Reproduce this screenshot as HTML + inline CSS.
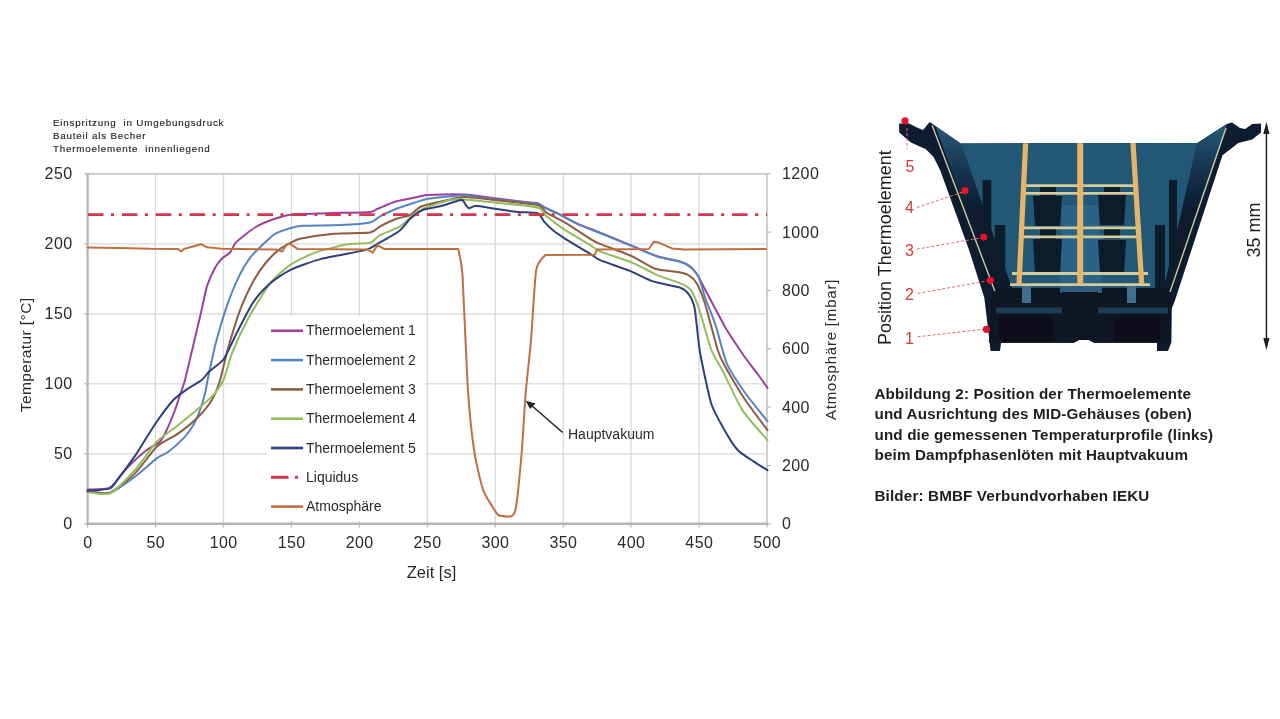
<!DOCTYPE html>
<html><head><meta charset="utf-8"><style>
html,body{margin:0;padding:0;background:#fff;width:1280px;height:719px;overflow:hidden}
svg{position:absolute;left:0;top:0;filter:blur(0.4px)}
text{font-family:"Liberation Sans",sans-serif}
</style></head><body>
<svg width="1280" height="719" viewBox="0 0 1280 719">
<g fill="#262626" stroke="#262626" stroke-width="0.15" font-size="9.8" letter-spacing="0.8">
<text x="53" y="125.6">Einspritzung&#160; in Umgebungsdruck</text>
<text x="53" y="139">Bauteil als Becher</text>
<text x="53" y="152.3">Thermoelemente&#160; innenliegend</text>
</g>
<g stroke="#d9d9d9" stroke-width="1.3" fill="none"><line x1="87.6" y1="453.8" x2="767" y2="453.8"/><line x1="87.6" y1="383.8" x2="767" y2="383.8"/><line x1="87.6" y1="313.8" x2="767" y2="313.8"/><line x1="87.6" y1="243.8" x2="767" y2="243.8"/><line x1="155.5" y1="173.8" x2="155.5" y2="523.8"/><line x1="223.5" y1="173.8" x2="223.5" y2="523.8"/><line x1="291.4" y1="173.8" x2="291.4" y2="523.8"/><line x1="359.4" y1="173.8" x2="359.4" y2="523.8"/><line x1="427.3" y1="173.8" x2="427.3" y2="523.8"/><line x1="495.2" y1="173.8" x2="495.2" y2="523.8"/><line x1="563.2" y1="173.8" x2="563.2" y2="523.8"/><line x1="631.1" y1="173.8" x2="631.1" y2="523.8"/><line x1="699.1" y1="173.8" x2="699.1" y2="523.8"/></g>
<line x1="86.6" y1="173.8" x2="767" y2="173.8" stroke="#c8c8c8" stroke-width="1.8"/>
<line x1="767" y1="173" x2="767" y2="524" stroke="#c4c4c4" stroke-width="1.6"/>
<g stroke="#b8b8b8" stroke-width="1.2"><line x1="84" y1="523.8" x2="88" y2="523.8"/><line x1="84" y1="453.8" x2="88" y2="453.8"/><line x1="84" y1="383.8" x2="88" y2="383.8"/><line x1="84" y1="313.8" x2="88" y2="313.8"/><line x1="84" y1="243.8" x2="88" y2="243.8"/><line x1="84" y1="173.8" x2="88" y2="173.8"/><line x1="87.6" y1="523" x2="87.6" y2="527.5"/><line x1="155.5" y1="523" x2="155.5" y2="527.5"/><line x1="223.5" y1="523" x2="223.5" y2="527.5"/><line x1="291.4" y1="523" x2="291.4" y2="527.5"/><line x1="359.4" y1="523" x2="359.4" y2="527.5"/><line x1="427.3" y1="523" x2="427.3" y2="527.5"/><line x1="495.2" y1="523" x2="495.2" y2="527.5"/><line x1="563.2" y1="523" x2="563.2" y2="527.5"/><line x1="631.1" y1="523" x2="631.1" y2="527.5"/><line x1="699.1" y1="523" x2="699.1" y2="527.5"/><line x1="767.0" y1="523" x2="767.0" y2="527.5"/><line x1="767" y1="523.8" x2="771" y2="523.8"/><line x1="767" y1="465.5" x2="771" y2="465.5"/><line x1="767" y1="407.1" x2="771" y2="407.1"/><line x1="767" y1="348.8" x2="771" y2="348.8"/><line x1="767" y1="290.5" x2="771" y2="290.5"/><line x1="767" y1="232.1" x2="771" y2="232.1"/><line x1="767" y1="173.8" x2="771" y2="173.8"/></g>
<rect x="267" y="316" width="158" height="205" fill="#fff"/>
<line x1="87.6" y1="173" x2="87.6" y2="525" stroke="#b4b4b4" stroke-width="2.2"/>
<line x1="86.5" y1="523.8" x2="768" y2="523.8" stroke="#b4b4b4" stroke-width="2.4"/>
<g fill="none" stroke-width="2" stroke-linejoin="round" stroke-linecap="round">
<path d="M87.6,489.5 C90.0,489.3 105.8,489.9 110.0,487.6 C114.2,485.3 122.8,472.4 126.7,468.4 C130.6,464.4 143.1,452.8 146.7,450.0 C150.3,447.2 157.9,443.8 160.0,441.7 C162.1,439.6 165.1,433.4 166.7,430.0 C168.3,426.6 173.6,413.7 175.0,410.0 C176.4,406.3 178.9,398.2 180.0,395.0 C181.1,391.8 183.7,385.0 185.0,380.0 C186.3,375.0 190.8,355.6 192.5,348.5 C194.2,341.4 199.3,319.7 200.9,313.0 C202.5,306.3 205.5,290.8 207.1,285.9 C208.7,281.0 213.9,270.0 215.5,267.1 C217.1,264.2 220.2,260.4 221.7,258.8 C223.2,257.2 228.4,254.3 230.0,252.5 C231.6,250.7 233.6,244.8 236.3,242.1 C239.0,239.4 250.9,230.0 255.0,227.5 C259.1,225.0 271.0,220.1 275.0,218.8 C279.0,217.4 286.9,215.1 292.5,214.5 C298.1,213.9 319.3,213.5 327.6,213.2 C335.9,212.9 364.8,212.4 370.1,211.9 C375.4,211.4 374.8,209.9 377.6,208.8 C380.4,207.7 392.4,202.5 396.4,201.3 C400.4,200.1 411.9,198.2 415.2,197.5 C418.5,196.8 422.4,195.3 427.7,195.0 C433.0,194.7 457.8,194.0 465.0,194.4 C472.2,194.8 488.4,197.5 495.1,198.3 C501.8,199.1 523.1,201.8 527.6,202.3 C532.1,202.8 535.7,202.6 537.7,203.2 C539.7,203.8 544.1,207.1 546.4,208.2 C548.7,209.3 555.6,212.1 558.9,213.8 C562.2,215.5 573.3,221.8 577.7,223.8 C582.1,225.8 594.2,230.2 600.0,232.6 C605.8,235.0 626.1,243.4 632.2,245.9 C638.3,248.4 652.1,254.6 657.2,256.3 C662.3,258.0 676.5,260.4 680.1,261.5 C683.7,262.6 688.7,265.3 690.6,266.8 C692.5,268.3 696.4,273.6 698.0,276.0 C699.6,278.4 702.7,284.9 705.2,289.7 C707.7,294.5 719.5,316.7 721.8,321.0 C724.1,325.3 724.4,326.2 726.8,330.0 C729.2,333.8 741.3,352.0 744.6,356.7 C747.9,361.4 755.6,371.2 758.0,374.5 C760.4,377.8 766.5,386.5 767.5,387.9" stroke="#9c3fa0"/>
<path d="M87.6,491.0 C90.0,491.2 104.9,494.5 110.0,493.0 C115.1,491.5 130.0,480.4 135.0,476.7 C140.0,473.0 153.1,461.1 156.7,458.4 C160.3,455.7 165.6,453.8 168.4,451.7 C171.2,449.6 180.7,441.2 183.4,438.4 C186.1,435.6 191.6,428.0 193.4,425.0 C195.2,422.0 198.8,413.4 200.0,410.0 C201.2,406.6 204.3,396.5 205.1,393.3 C205.9,390.1 206.5,385.2 207.6,380.0 C208.7,374.8 213.5,351.9 215.5,344.3 C217.5,336.7 223.5,316.0 225.9,308.9 C228.3,301.8 235.7,283.2 238.4,277.6 C241.1,272.0 247.9,260.7 251.0,256.7 C254.1,252.7 265.1,242.4 267.7,240.0 C270.3,237.6 272.6,235.0 275.0,233.8 C277.4,232.5 287.1,229.1 290.0,228.2 C292.9,227.3 297.2,226.0 302.5,225.7 C307.8,225.4 332.9,225.4 340.1,225.1 C347.3,224.8 365.8,223.5 370.1,222.6 C374.4,221.7 377.3,217.8 380.1,216.3 C382.9,214.8 392.7,210.3 396.4,208.8 C400.1,207.3 411.9,203.6 415.2,202.5 C418.5,201.4 424.0,199.5 427.7,198.8 C431.4,198.1 446.0,196.7 450.0,196.3 C454.0,195.9 460.2,194.9 465.0,195.2 C469.8,195.5 488.4,198.5 495.1,199.3 C501.8,200.1 523.1,202.1 527.6,202.6 C532.1,203.1 535.7,203.0 537.7,203.6 C539.7,204.2 544.1,207.5 546.4,208.6 C548.7,209.7 555.6,212.5 558.9,214.2 C562.2,215.9 573.3,222.2 577.7,224.2 C582.1,226.2 594.2,230.7 600.0,233.0 C605.8,235.3 626.1,243.7 632.2,246.2 C638.3,248.7 652.1,254.8 657.2,256.5 C662.3,258.2 676.5,260.7 680.1,261.8 C683.7,262.9 688.6,265.6 690.6,267.2 C692.6,268.8 697.3,273.9 698.9,277.2 C700.5,280.5 703.4,292.9 705.2,298.0 C707.0,303.1 713.3,318.2 715.6,325.2 C717.9,332.2 723.7,356.2 726.8,363.4 C729.9,370.6 740.3,386.1 744.6,392.3 C748.9,398.5 765.1,418.2 767.5,421.3" stroke="#5585c0"/>
<path d="M87.6,491.5 C90.0,491.6 104.9,494.5 110.0,492.6 C115.1,490.7 130.0,478.3 135.0,473.4 C140.0,468.5 152.1,451.0 156.7,446.7 C161.3,442.4 174.0,436.6 178.4,433.4 C182.8,430.2 194.8,420.3 198.4,416.7 C202.0,413.1 209.5,403.9 211.8,400.0 C214.1,396.1 218.4,385.5 220.1,380.0 C221.8,374.5 225.8,356.1 228.0,348.5 C230.2,340.9 237.8,316.0 240.5,308.9 C243.2,301.8 250.3,286.6 253.0,281.7 C255.7,276.8 262.9,266.3 265.6,263.0 C268.3,259.7 275.5,252.5 278.1,250.4 C280.7,248.3 287.7,244.4 290.0,243.2 C292.3,242.0 295.3,239.8 300.0,238.8 C304.7,237.8 326.3,234.5 333.8,233.8 C341.3,233.1 365.2,233.4 370.1,232.6 C375.0,231.8 377.3,227.8 380.1,226.3 C382.9,224.8 393.2,220.0 396.4,218.8 C399.6,217.6 407.5,216.3 410.2,215.0 C412.9,213.7 417.3,208.0 421.5,206.3 C425.7,204.6 445.4,200.4 450.0,199.4 C454.6,198.4 460.2,196.8 465.0,196.9 C469.8,197.0 487.3,199.1 495.1,200.0 C502.9,200.9 532.2,203.7 537.7,205.0 C543.2,206.3 543.5,210.7 546.4,212.6 C549.3,214.5 560.5,219.8 565.2,222.6 C569.9,225.4 586.5,236.5 590.2,238.8 C593.9,241.1 595.5,242.0 600.0,243.9 C604.5,245.8 626.3,253.6 632.2,256.3 C638.1,259.0 650.2,267.1 655.1,268.8 C660.0,270.5 674.4,271.3 678.0,272.0 C681.6,272.7 686.5,273.9 688.5,275.1 C690.5,276.3 695.0,280.3 696.8,283.4 C698.6,286.5 703.0,297.2 705.2,304.3 C707.4,311.4 715.6,343.5 717.7,350.0 C719.8,356.5 721.7,360.4 724.6,365.6 C727.5,370.8 740.0,392.1 744.6,399.0 C749.2,405.9 765.1,426.9 767.5,430.2" stroke="#8e5c42"/>
<path d="M87.6,492.0 C90.0,492.1 104.9,495.7 110.0,493.4 C115.1,491.1 130.0,475.5 135.0,470.0 C140.0,464.5 152.1,446.5 156.7,441.7 C161.3,436.9 174.0,428.6 178.4,425.0 C182.8,421.4 194.8,411.4 198.4,408.4 C202.0,405.4 209.1,399.7 211.8,396.7 C214.5,393.7 221.3,384.7 223.5,380.0 C225.7,375.3 229.5,359.4 232.2,352.7 C234.9,346.0 244.9,324.5 248.9,317.2 C252.9,309.9 265.3,289.4 269.7,283.8 C274.1,278.2 285.2,268.4 290.0,265.1 C294.8,261.8 309.0,254.8 315.0,252.6 C321.0,250.4 340.4,245.6 346.3,244.5 C352.2,243.4 366.5,243.6 370.1,242.6 C373.7,241.6 376.9,236.8 380.1,235.1 C383.3,233.4 397.0,228.2 400.2,226.3 C403.4,224.4 407.8,219.5 410.2,217.6 C412.6,215.7 418.5,210.7 422.7,208.8 C426.9,206.9 445.5,201.0 450.0,200.0 C454.5,199.0 460.2,199.1 465.0,199.4 C469.8,199.7 487.3,201.6 495.1,202.5 C502.9,203.4 532.2,206.0 537.7,207.5 C543.2,209.0 543.5,213.9 546.4,216.3 C549.3,218.7 560.5,227.0 565.2,230.1 C569.9,233.2 586.5,242.8 590.2,245.1 C593.9,247.4 595.5,249.5 600.0,251.4 C604.5,253.3 626.1,260.1 632.2,262.6 C638.3,265.1 652.3,273.0 657.2,275.1 C662.1,277.2 674.4,280.8 678.0,282.4 C681.6,284.0 688.4,286.9 690.6,289.7 C692.8,292.5 696.7,302.1 698.9,308.5 C701.1,314.9 708.9,343.4 711.4,350.0 C713.9,356.6 719.0,363.7 722.3,370.1 C725.6,376.5 737.6,402.6 742.4,410.1 C747.2,417.6 764.8,437.0 767.5,440.2" stroke="#93bd5c"/>
<path d="M87.6,490.9 C90.0,490.6 106.7,489.7 110.0,488.4 C113.3,487.1 115.7,481.9 118.4,478.4 C121.1,474.9 132.2,460.0 135.0,455.9 C137.8,451.8 142.7,443.6 145.0,440.0 C147.3,436.4 153.7,426.0 156.7,421.7 C159.7,417.4 170.0,403.6 173.4,400.0 C176.8,396.4 185.4,390.4 188.4,388.3 C191.4,386.2 199.6,381.8 201.8,380.0 C204.0,378.2 206.9,373.7 209.2,371.5 C211.5,369.3 220.9,363.0 223.8,359.0 C226.7,355.0 233.2,339.9 236.3,333.9 C239.4,327.9 249.4,307.9 253.0,302.6 C256.6,297.3 265.8,287.3 269.7,283.8 C273.6,280.3 284.5,272.8 290.0,270.1 C295.5,267.4 313.3,261.0 321.3,258.9 C329.3,256.8 359.1,251.7 365.1,250.1 C371.1,248.5 374.0,245.8 377.6,243.8 C381.2,241.8 395.4,234.0 398.9,231.3 C402.4,228.6 407.7,221.1 410.2,218.8 C412.7,216.5 419.5,211.3 422.7,210.0 C425.9,208.7 435.9,207.4 440.0,206.3 C444.1,205.2 458.6,200.3 461.3,200.0 C464.0,199.7 464.2,202.9 465.0,203.8 C465.8,204.7 467.6,208.0 468.8,208.2 C470.0,208.4 473.5,205.6 476.3,205.7 C479.1,205.8 490.7,208.1 495.1,208.8 C499.5,209.5 513.1,211.4 517.6,211.9 C522.1,212.4 534.9,212.2 537.7,213.2 C540.5,214.2 542.3,219.5 543.9,221.3 C545.5,223.1 550.4,228.2 552.7,230.1 C555.0,232.0 561.2,236.3 565.2,238.8 C569.2,241.3 586.5,251.6 590.2,253.9 C593.9,256.2 595.8,258.3 600.0,260.1 C604.2,261.9 624.3,268.6 630.0,270.9 C635.7,273.2 647.7,279.6 653.0,281.4 C658.3,283.2 676.3,286.3 680.1,287.6 C683.9,288.9 686.9,291.7 688.5,293.9 C690.1,296.1 693.5,302.3 694.7,308.5 C695.9,314.7 698.2,342.2 700.0,352.3 C701.8,362.4 708.6,395.2 711.2,403.5 C713.8,411.8 721.8,425.2 724.6,430.2 C727.4,435.2 734.8,446.9 737.9,450.2 C741.0,453.5 750.3,459.2 753.5,461.3 C756.7,463.4 766.0,469.3 767.5,470.2" stroke="#2d3f7e"/>
</g>
<line x1="88" y1="214.6" x2="767" y2="214.6" stroke="#d4364d" stroke-width="2.8" stroke-dasharray="15.5 7.5 3 7.9"/>
<g fill="none" stroke-width="2" stroke-linejoin="round" stroke-linecap="round">
<path d="M87.6,247.5 L130.0,248.2 L150.0,248.8 L178.0,249.0 L181.0,251.5 L184.0,249.0 L200.9,244.2 L207.1,247.3 L221.7,248.8 L276.0,249.4 L282.3,251.5 L286.4,244.2 L290.0,243.8 L297.5,248.9 L367.6,249.5 L372.6,252.6 L377.6,245.1 L383.9,248.9 L458.2,248.9 L458.2,248.9 C458.7,251.7 461.5,260.5 462.5,275.0 C463.5,289.5 466.4,366.2 467.6,385.0 C468.8,403.8 472.5,439.7 474.2,451.0 C475.9,462.3 481.0,484.1 483.4,490.7 C485.8,497.3 494.8,510.4 496.6,513.1 C498.4,515.8 498.9,515.5 500.6,515.8 C502.3,516.1 510.8,517.1 512.5,515.8 C514.2,514.5 515.5,510.8 516.5,503.9 C517.5,497.0 520.8,462.8 521.8,451.0 C522.8,439.2 524.7,404.7 525.7,392.9 C526.7,381.1 529.9,353.1 531.0,340.0 C532.1,326.9 534.7,279.1 536.2,270.0 C537.8,260.9 544.2,256.7 545.2,255.1 L545.2,255.1 L594.6,254.7 L597.1,249.5 L648.8,249.0 L654.0,241.7 L659.3,242.8 L671.8,248.4 L684.3,249.4 L766.0,249.0" stroke="#c0703e"/>
</g>
<g fill="#2a2a2a" font-size="14"><line x1="271" y1="330.8" x2="303" y2="330.8" stroke="#9c3fa0" stroke-width="2.6"/><text x="306" y="335.4">Thermoelement 1</text><line x1="271" y1="360.1" x2="303" y2="360.1" stroke="#5585c0" stroke-width="2.6"/><text x="306" y="364.7">Thermoelement 2</text><line x1="271" y1="389.4" x2="303" y2="389.4" stroke="#8e5c42" stroke-width="2.6"/><text x="306" y="394.0">Thermoelement 3</text><line x1="271" y1="418.7" x2="303" y2="418.7" stroke="#93bd5c" stroke-width="2.6"/><text x="306" y="423.3">Thermoelement 4</text><line x1="271" y1="448.0" x2="303" y2="448.0" stroke="#2d3f7e" stroke-width="2.6"/><text x="306" y="452.6">Thermoelement 5</text><line x1="271" y1="477.3" x2="288.5" y2="477.3" stroke="#d4364d" stroke-width="3"/><line x1="295" y1="477.3" x2="298" y2="477.3" stroke="#d4364d" stroke-width="3"/><text x="306" y="481.9">Liquidus</text><line x1="271" y1="506.6" x2="303" y2="506.6" stroke="#c0703e" stroke-width="2.6"/><text x="306" y="511.2">Atmosphäre</text></g>
<g fill="#2a2a2a" font-size="16" letter-spacing="0.4"><text x="72.5" y="529.2" text-anchor="end">0</text><text x="72.5" y="459.2" text-anchor="end">50</text><text x="72.5" y="389.2" text-anchor="end">100</text><text x="72.5" y="319.2" text-anchor="end">150</text><text x="72.5" y="249.2" text-anchor="end">200</text><text x="72.5" y="179.2" text-anchor="end">250</text><text x="87.8" y="547.6" text-anchor="middle">0</text><text x="155.7" y="547.6" text-anchor="middle">50</text><text x="223.7" y="547.6" text-anchor="middle">100</text><text x="291.6" y="547.6" text-anchor="middle">150</text><text x="359.6" y="547.6" text-anchor="middle">200</text><text x="427.5" y="547.6" text-anchor="middle">250</text><text x="495.4" y="547.6" text-anchor="middle">300</text><text x="563.4" y="547.6" text-anchor="middle">350</text><text x="631.3" y="547.6" text-anchor="middle">400</text><text x="699.3" y="547.6" text-anchor="middle">450</text><text x="767.2" y="547.6" text-anchor="middle">500</text><text x="782" y="529.2">0</text><text x="782" y="470.9">200</text><text x="782" y="412.5">400</text><text x="782" y="354.2">600</text><text x="782" y="295.9">800</text><text x="782" y="237.5">1000</text><text x="782" y="179.2">1200</text></g>
<text x="431.5" y="578.3" fill="#2a2a2a" font-size="16.5" text-anchor="middle">Zeit [s]</text>
<text transform="translate(30.8,354.9) rotate(-90)" fill="#2a2a2a" font-size="15.5" text-anchor="middle" letter-spacing="0.4">Temperatur [°C]</text>
<text transform="translate(835.5,349.4) rotate(-90)" fill="#2a2a2a" font-size="15" text-anchor="middle" letter-spacing="0.8">Atmosphäre [mbar]</text>
<line x1="562.7" y1="432.5" x2="531" y2="405" stroke="#222" stroke-width="1.5"/>
<polygon points="525.7,400.8 535.5,403.5 530,409" fill="#222"/>
<text x="568" y="439.1" fill="#2a2a2a" font-size="14">Hauptvakuum</text>
<g id="photo">
<defs><filter id="pb" x="-5%" y="-5%" width="110%" height="110%"><feGaussianBlur stdDeviation="0.7"/></filter><linearGradient id="gf" x1="0" y1="0" x2="0" y2="1"><stop offset="0" stop-color="#285a7a"/><stop offset="0.3" stop-color="#14304a"/><stop offset="0.5" stop-color="#0d1f30"/><stop offset="1" stop-color="#0b1a28"/></linearGradient></defs>
<g filter="url(#pb)">
<polygon fill="#0d1f2f" points="899.1,123.4 909,123.4 917,127.5 923,130 929.6,122.1 935.5,125.9 960.1,143.4 1197.3,143 1226.8,123.9 1232,122.5 1240,128 1245.2,129.1 1252.2,123.9 1261,123.5 1261,132.6 1252.2,139.6 1238.3,143 1222.5,155.2 1174.7,301.2 1171.2,310 1171.2,342.7 1168,351 1157,351 1157,342.7 1094,342.7 1088,339.5 1080,339.5 1073.75,342.7 1001.1,342.7 1000,351 990.5,351 989.6,342 986,311.7 984.3,297.8 968.7,249.1 940.1,170 933.4,156.7 925.9,149.2 910.9,142.6 899.2,132.5"/>
<polygon fill="url(#gf)" points="935.5,125.9 961,143.4 1012,288 994.8,290.9"/>
<polygon fill="#205976" points="961,143.4 1197.3,143 1164,288 1012,288"/>
<polygon fill="url(#gf)" points="1197.3,143 1226.8,123.9 1176,290 1164,288"/>
<polygon fill="#2d6a90" points="1062,205 1098,205 1102,288 1060,288" opacity="0.7"/>
<g fill="#0b1b29">
<polygon points="1033,196 1062,196 1060,226 1035,226"/>
<polygon points="1033,239 1062,239 1060,273.5 1035,273.5"/>
<polygon points="1098,194 1126,194 1124,225 1100,225"/>
<polygon points="1098,240 1126,240 1124,273.5 1100,273.5"/>
<rect x="1040" y="186" width="16" height="10"/>
<rect x="1104" y="186" width="16" height="10"/>
<rect x="1040" y="228" width="16" height="11"/>
<rect x="1104" y="228" width="16" height="11"/>
<rect x="982.6" y="180" width="8.7" height="110"/>
<rect x="994.8" y="225" width="10.4" height="65"/>
<rect x="1169" y="180" width="8" height="110"/>
<rect x="1155" y="225" width="10" height="65"/>
</g>
<polygon fill="#0b1824" points="992,288 1172,288 1171.2,342.7 1094,342.7 1088,339.5 1080,339.5 1073.75,342.7 1001.1,342.7 989,342.7"/>
<rect x="996" y="307.5" width="68" height="6" fill="#1a3a54"/><rect x="1098" y="307.5" width="70" height="6" fill="#1a3a54"/><rect x="1022" y="286" width="9" height="17" fill="#3f6f8e"/><rect x="1127" y="286" width="9" height="17" fill="#3f6f8e"/><rect x="1060" y="286" width="42" height="7" fill="#2f5f80"/>
<rect x="999" y="317" width="54" height="25" fill="#07101a"/>
<rect x="1114" y="317" width="46" height="25" fill="#07101a"/>
<rect x="1062" y="292" width="36" height="48" fill="#0a1722"/>
<g stroke="#d4cc9c" stroke-width="2.8">
<line x1="1021" y1="185.6" x2="1138" y2="185.6"/>
<line x1="1021" y1="193.4" x2="1138" y2="193.4"/>
<line x1="1019" y1="227.9" x2="1141" y2="227.9"/>
<line x1="1019" y1="236.8" x2="1141" y2="236.8"/>
<line x1="1012" y1="273.5" x2="1148" y2="273.5"/>
<line x1="1010" y1="284.6" x2="1150" y2="284.6"/>
</g>
<g stroke="#e8b468" stroke-width="5.2">
<line x1="1025.6" y1="143.3" x2="1019" y2="284.6"/>
<line x1="1080.2" y1="143.3" x2="1080.2" y2="284.6" stroke-width="6"/>
<line x1="1133" y1="143" x2="1141.7" y2="283.8"/>
</g>
<g stroke="#cfc9a6" stroke-width="1.4" fill="none">
<polyline points="932.2,125.6 994.8,290.9"/>
<polyline points="1226,128 1170,292"/>
</g>
</g>
<g fill="#e3132c">
<circle cx="905" cy="120.9" r="3.6"/>
<circle cx="965" cy="190.7" r="3.6"/>
<circle cx="983.7" cy="237" r="3.6"/>
<circle cx="990.4" cy="280.3" r="3.6"/>
<circle cx="986.4" cy="329.3" r="3.6"/>
</g>
<g stroke="#e06a70" stroke-width="1" stroke-dasharray="3 2" fill="none">
<line x1="907" y1="128" x2="907" y2="149"/>
<line x1="917" y1="207.6" x2="962" y2="192.3"/>
<line x1="916.7" y1="249.2" x2="980" y2="238"/>
<line x1="917.6" y1="293.4" x2="987" y2="281"/>
<line x1="917.6" y1="336.8" x2="983" y2="329.3"/>
</g>
<g fill="#d83838" font-size="16">
<text x="905.5" y="171.8">5</text>
<text x="905" y="213.4">4</text>
<text x="905" y="255.8">3</text>
<text x="905" y="300">2</text>
<text x="905" y="344.3">1</text>
</g>
<text transform="translate(890.8,247.6) rotate(-90)" fill="#1e1e1e" font-size="18" text-anchor="middle">Position Thermoelement</text>
<text transform="translate(1259.5,230) rotate(-90)" fill="#1e1e1e" font-size="18" text-anchor="middle">35 mm</text>
<line x1="1266.4" y1="126" x2="1266.4" y2="346" stroke="#1e1e1e" stroke-width="1.5"/>
<polygon fill="#1e1e1e" points="1266.4,122 1263.3,134 1269.5,134"/>
<polygon fill="#1e1e1e" points="1266.4,350 1263.3,338 1269.5,338"/>
</g>

<g fill="#1e1e1e" font-size="15.2" font-weight="bold" letter-spacing="0.15">
<text x="874.5" y="398.5">Abbildung 2: Position der Thermoelemente</text>
<text x="874.5" y="419">und Ausrichtung des MID-Gehäuses (oben)</text>
<text x="874.5" y="439.5">und die gemessenen Temperaturprofile (links)</text>
<text x="874.5" y="460">beim Dampfphasenlöten mit Hauptvakuum</text>
<text x="874.5" y="501">Bilder: BMBF Verbundvorhaben IEKU</text>
</g>
</svg>
</body></html>
